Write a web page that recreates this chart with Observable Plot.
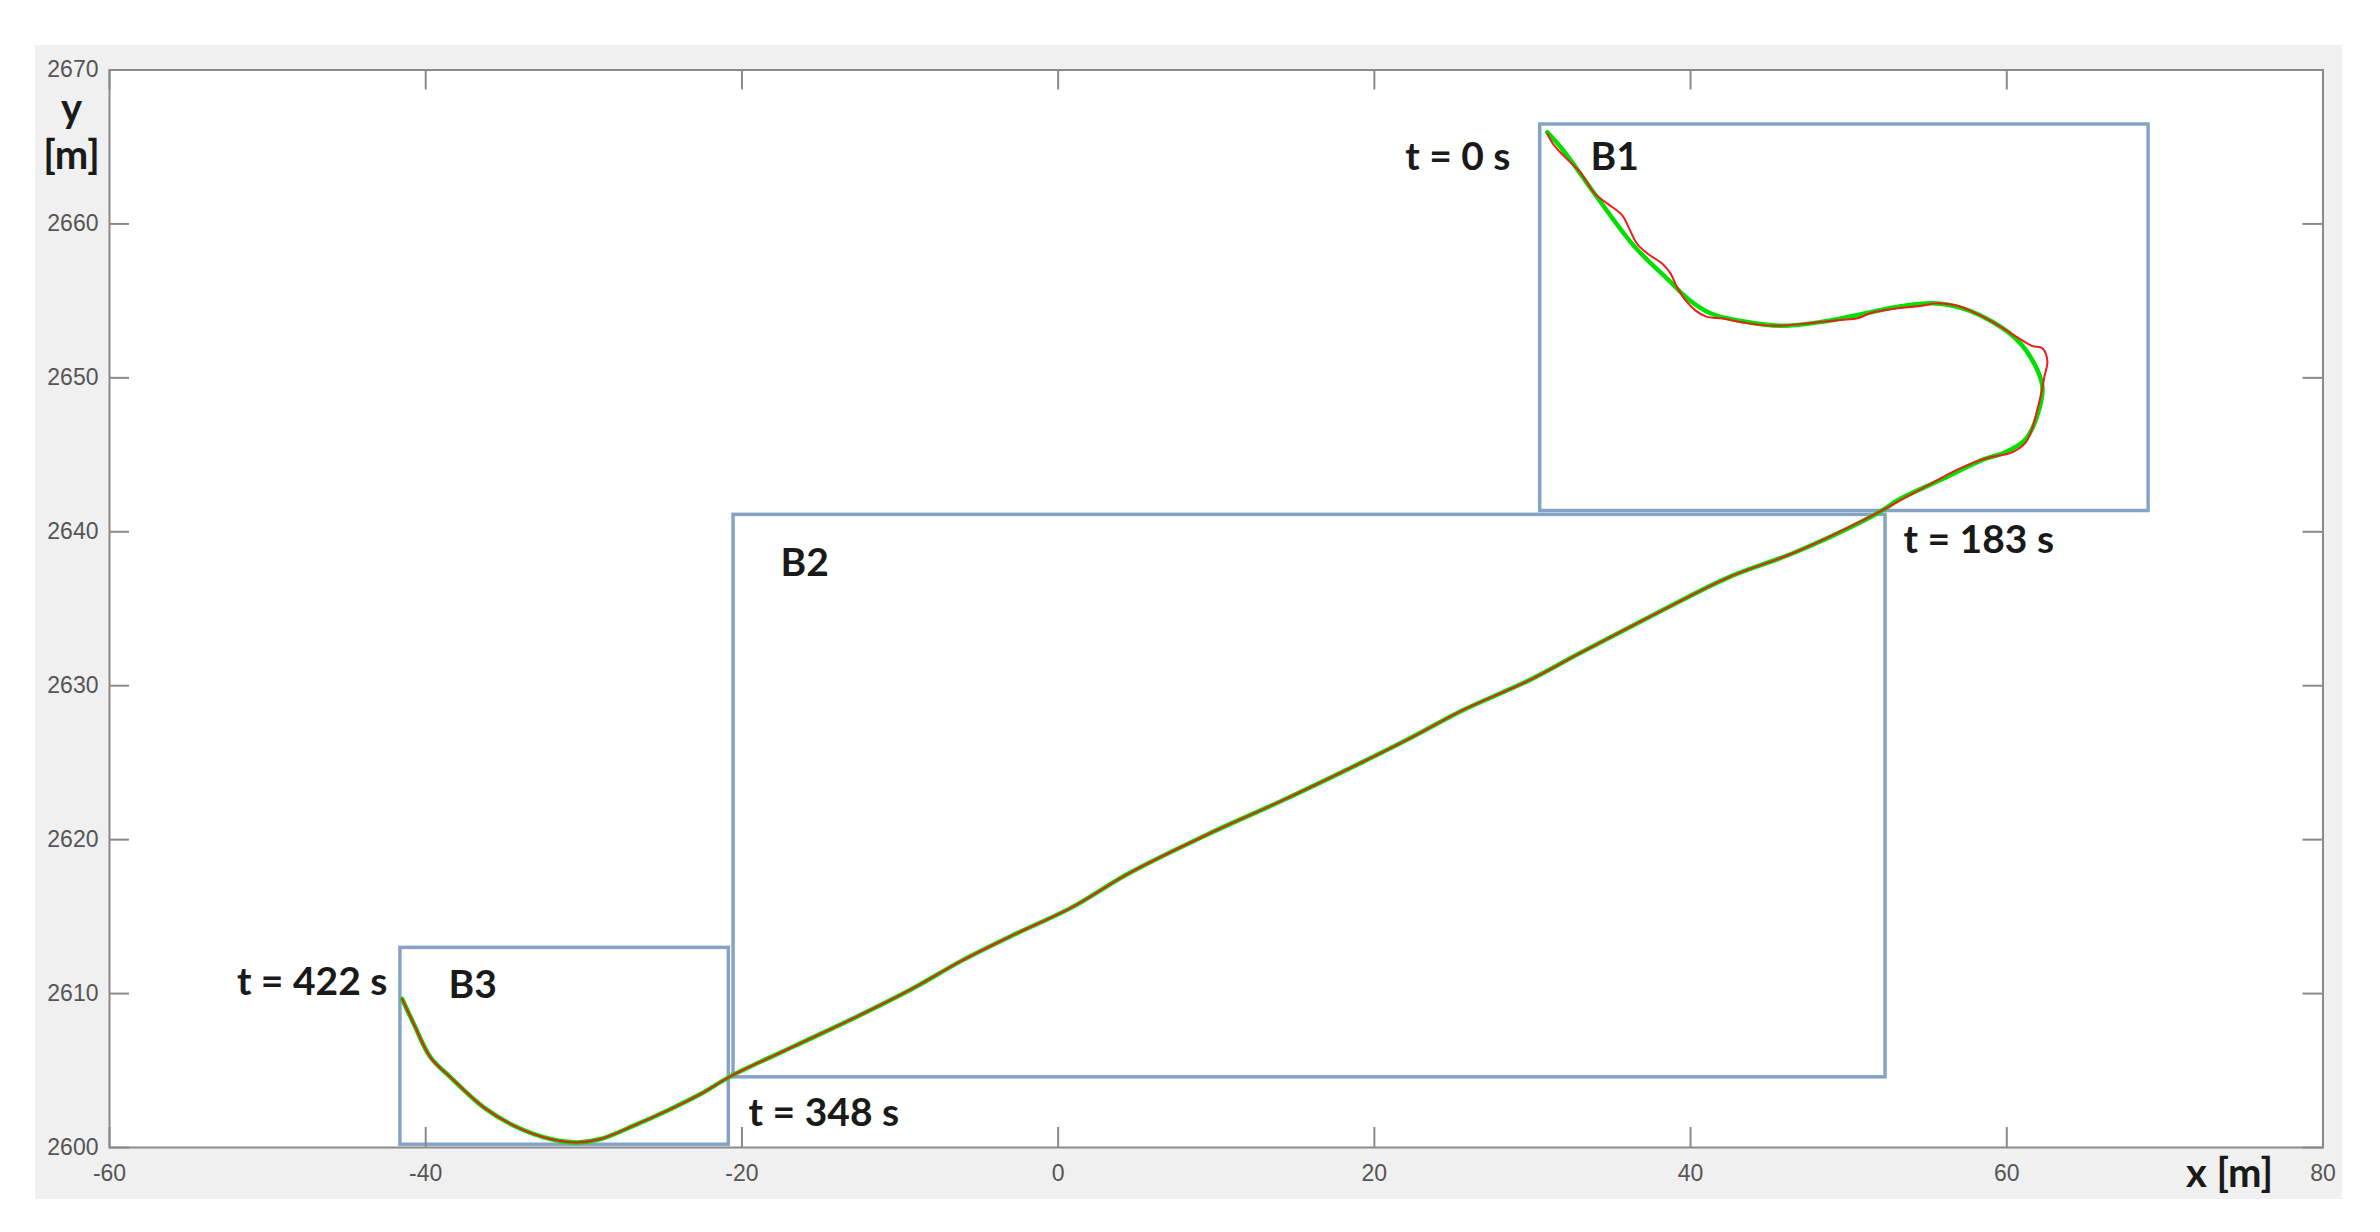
<!DOCTYPE html>
<html>
<head>
<meta charset="utf-8">
<script src="https://cdn.jsdelivr.net/npm/d3@7"></script>
<script src="https://cdn.jsdelivr.net/npm/@observablehq/plot@0.6"></script>
<style>
  html, body { margin: 0; padding: 0; background: #ffffff; }
  #wrap { position: relative; width: 2380px; height: 1232px; overflow: hidden; }
  #bg { position: absolute; left: 35px; top: 45px; width: 2307px; height: 1154px; background: #f0f0f0; }
  #chart { position: absolute; left: 0; top: 0; }
</style>
</head>
<body>
<div id="wrap"><div id="bg"></div><div id="chart"></div></div>
<script>
// ---- axis ticks ----
const xTicks = [-60, -40, -20, 0, 20, 40, 60, 80];
const yTicks = [2600, 2610, 2620, 2630, 2640, 2650, 2660, 2670];

// ---- reference trajectory (green) ----
const greenX = [30.94, 31.95, 34.08, 36.47, 38.60, 39.92, 41.25, 43.38, 45.77, 48.43, 51.09, 53.21, 55.34, 57.20, 59.06, 60.65, 61.72, 62.25, 61.98, 61.18, 59.85, 58.53, 55.87, 53.21, 51.88,
  46.62, 42.40, 38.18, 32.92, 29.75, 25.53, 22.37, 19.21, 14.15, 9.72, 4.45, 0.87, -2.93, -6.09, -9.25, -12.83, -16.63, -20.64,
  -22.62, -24.73, -26.84, -28.94, -30.42, -32.11, -34.21, -36.33, -38.43, -39.70, -40.75, -41.49];
const greenY = [2665.96, 2664.78, 2661.75, 2658.51, 2656.36, 2655.06, 2654.20, 2653.66, 2653.38, 2653.66, 2654.20, 2654.63, 2654.84, 2654.52, 2653.66, 2652.47, 2650.96, 2649.45, 2647.72, 2645.99, 2645.13, 2644.70, 2643.40, 2642.11, 2641.24,
  2638.67, 2637.04, 2634.88, 2632.07, 2630.33, 2628.38, 2626.65, 2625.02, 2622.53, 2620.47, 2617.80, 2615.60, 2613.76, 2612.14, 2610.30, 2608.45, 2606.61, 2604.67,
  2603.47, 2602.39, 2601.42, 2600.55, 2600.33, 2600.55, 2601.31, 2602.61, 2604.56, 2605.86, 2608.02, 2609.65];

// ---- measured trajectory (red) ----
const redX = [30.94, 31.29, 31.95, 33.01, 33.94, 34.74, 35.67, 36.07, 36.60, 37.27, 38.20, 38.73, 39.13, 39.66, 40.32, 40.99, 42.05, 43.38, 45.24, 47.90, 49.49, 50.55, 51.35, 52.68, 54.54, 55.60, 56.93, 58.26, 59.59, 60.65, 61.58, 62.25, 62.57, 62.38, 62.19, 61.93, 61.66, 61.18, 60.25, 59.06, 57.86, 56.67, 55.34, 53.74, 52.15,
  46.62, 42.40, 38.18, 32.92, 29.75, 25.53, 22.37, 19.21, 14.15, 9.72, 4.45, 0.87, -2.93, -6.09, -9.25, -12.83, -16.63, -20.64,
  -22.62, -24.73, -26.84, -28.94, -30.42, -32.11, -34.21, -36.33, -38.43, -39.70, -40.75, -41.49];
const redY = [2665.85, 2665.21, 2664.45, 2663.37, 2661.97, 2661.32, 2660.57, 2659.81, 2658.73, 2658.08, 2657.43, 2656.79, 2655.92, 2655.06, 2654.37, 2653.98, 2653.85, 2653.59, 2653.38, 2653.59, 2653.76, 2653.87, 2654.20, 2654.46, 2654.67, 2654.84, 2654.67, 2654.09, 2653.33, 2652.64, 2652.08, 2651.93, 2651.07, 2650.09, 2649.02, 2647.94, 2646.86, 2645.78, 2645.13, 2644.87, 2644.48, 2643.94, 2643.19, 2642.32, 2641.41,
  2638.67, 2637.04, 2634.88, 2632.07, 2630.33, 2628.38, 2626.65, 2625.02, 2622.53, 2620.47, 2617.80, 2615.60, 2613.76, 2612.14, 2610.30, 2608.45, 2606.61, 2604.67,
  2603.47, 2602.39, 2601.42, 2600.55, 2600.33, 2600.55, 2601.31, 2602.61, 2604.56, 2605.86, 2608.02, 2609.65];

// ---- section boxes ----
const boxNames = ["B1", "B2", "B3"];
const boxX1 = [30.49, -20.53, -41.60];
const boxX2 = [68.97, 52.33, -20.83];
const boxY1 = [2641.35, 2604.56, 2600.18];
const boxY2 = [2666.46, 2641.10, 2612.97];

// ---- annotations ----
const labelText = ["t = 0 s", "B1", "t = 183 s", "B2", "t = 348 s", "t = 422 s", "B3"];
const labelX = [28.61, 33.67, 53.47, -17.56, -19.58, -42.42, -38.56];
const labelY = [2664.31, 2664.31, 2639.43, 2637.93, 2602.22, 2610.71, 2610.51];
const labelAnchor = ["end", "start", "start", "start", "start", "end", "start"];

// ---- layout ----
const W = 2380, H = 1232;
const mL = 109, mR = 57.5, mT = 69.5, mB = 85;
const fw = W - mL - mR, fh = H - mT - mB;
const tick = 20;

const gIdx = d3.range(greenX.length);
const rIdx = d3.range(redX.length);
const bIdx = d3.range(boxNames.length);
const lIdx = d3.range(labelText.length);
const lStart = lIdx.filter(i => labelAnchor[i] === "start");
const lEnd = lIdx.filter(i => labelAnchor[i] === "end");

const boldFont = "Lato, 'Open Sans', sans-serif";
const tickFont = "'Liberation Sans', Arial, sans-serif";
const labelStyle = { fontFamily: boldFont, fontWeight: "bold", fontSize: 39, fill: "#1a1a1a" };

const chart = Plot.plot({
  width: W, height: H,
  marginLeft: mL, marginRight: mR, marginTop: mT, marginBottom: mB,
  style: { background: "transparent", overflow: "visible", fontFamily: tickFont },
  x: { domain: [-60, 80] },
  y: { domain: [2600, 2670] },
  marks: [
    Plot.frame({ fill: "#ffffff", stroke: "none" }),
    Plot.rect(bIdx, {
      x1: i => boxX1[i], x2: i => boxX2[i], y1: i => boxY1[i], y2: i => boxY2[i],
      fill: "none", stroke: "#86a3c6", strokeWidth: 3.5
    }),
    Plot.line(gIdx, { x: i => greenX[i], y: i => greenY[i], stroke: "#00e000", strokeWidth: 4.5, curve: "catmull-rom" }),
    Plot.line(rIdx, { x: i => redX[i], y: i => redY[i], stroke: "#f01c1c", strokeWidth: 2, curve: "catmull-rom" }),
    Plot.frame({ stroke: "#8a8a8a", strokeWidth: 2 }),
    Plot.tickX(xTicks, { x: d => d, insetTop: fh - tick, stroke: "#8a8a8a", strokeWidth: 2 }),
    Plot.tickX(xTicks, { x: d => d, insetBottom: fh - tick, stroke: "#8a8a8a", strokeWidth: 2 }),
    Plot.tickY(yTicks, { y: d => d, insetRight: fw - tick, stroke: "#8a8a8a", strokeWidth: 2 }),
    Plot.tickY(yTicks, { y: d => d, insetLeft: fw - tick, stroke: "#8a8a8a", strokeWidth: 2 }),
    Plot.axisX({ anchor: "bottom", ticks: xTicks, tickSize: 0, tickPadding: 17, tickFormat: d => String(d), label: null, fontSize: 23, color: "#555555" }),
    Plot.axisY({ anchor: "left", ticks: yTicks, tickSize: 0, tickPadding: 11, tickFormat: d => String(d), label: null, fontSize: 23, color: "#555555" }),
    Plot.text(lStart, { x: i => labelX[i], y: i => labelY[i], text: i => labelText[i], textAnchor: "start", ...labelStyle }),
    Plot.text(lEnd, { x: i => labelX[i], y: i => labelY[i], text: i => labelText[i], textAnchor: "end", ...labelStyle }),
    Plot.text(["y"], { frameAnchor: "top-left", dx: -38, dy: 39, lineAnchor: "middle", textAnchor: "middle", fontFamily: boldFont, fontWeight: "bold", fontSize: 40, fill: "#1a1a1a" }),
    Plot.text(["[m]"], { frameAnchor: "top-left", dx: -38, dy: 86, lineAnchor: "middle", textAnchor: "middle", fontFamily: boldFont, fontWeight: "bold", fontSize: 40, fill: "#1a1a1a" }),
    Plot.text(["x [m]"], { frameAnchor: "bottom-right", dx: -93.5, dy: 27, lineAnchor: "middle", textAnchor: "middle", fontFamily: boldFont, fontWeight: "bold", fontSize: 40, fill: "#1a1a1a" })
  ]
});
document.getElementById("chart").appendChild(chart);
</script>
</body>
</html>
